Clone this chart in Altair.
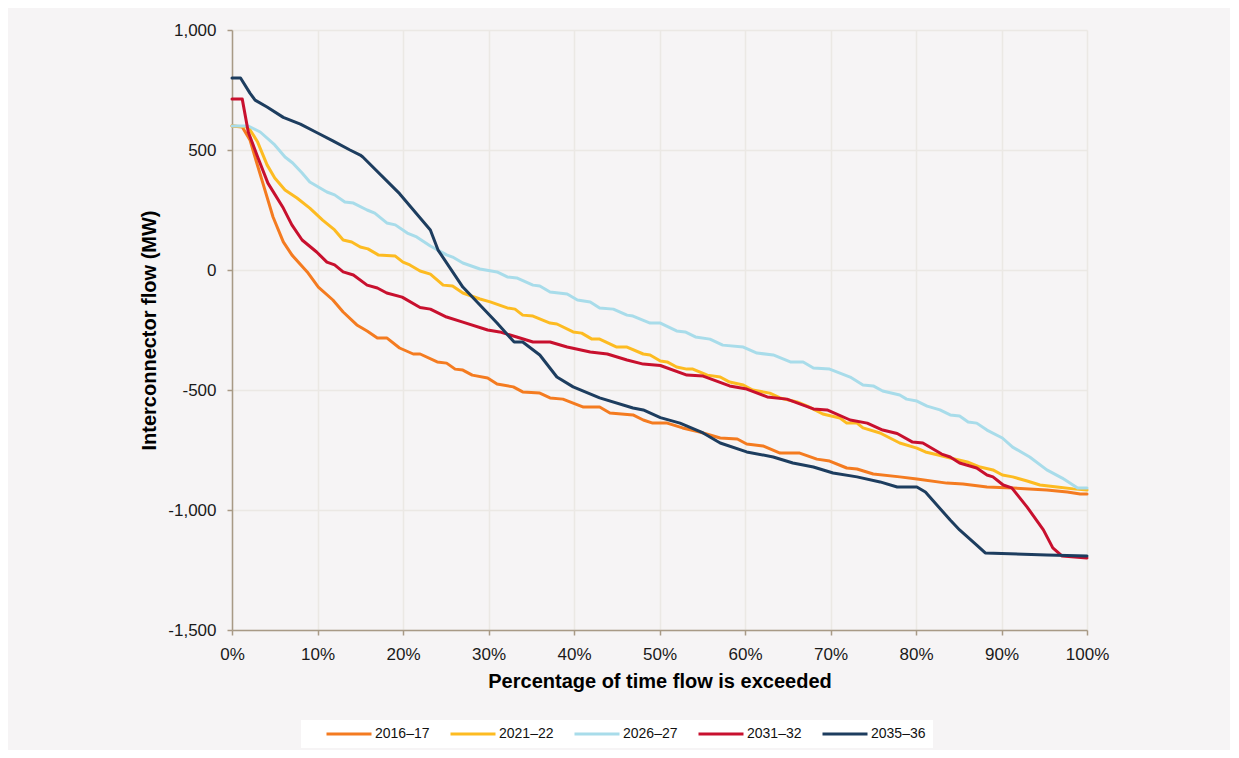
import altair as alt
import pandas as pd

SERIES = ["2016–17", "2021–22", "2026–27", "2031–32", "2035–36"]
COLORS = ["#f47b20", "#fdbb21", "#a8dcea", "#c8102e", "#1d3d5f"]

X_TICKS = [0, 10, 20, 30, 40, 50, 60, 70, 80, 90, 100]
Y_TICKS = [-1500, -1000, -500, 0, 500, 1000]

# 2016–17
x_2016 = [0, 1.2, 2.1, 2.9, 3.6, 4.8, 6.0, 7.0, 8.8, 10.1, 11.8, 13.0, 14.6, 15.8, 17.0, 18.1,
          19.6, 21.2, 22.0, 24.0, 25.1, 26.1, 27.0, 28.1, 29.9, 31.0, 32.9, 34.0, 36.0, 37.2,
          38.7, 41.1, 43.0, 44.2, 46.9, 48.1, 49.2, 50.9, 52.7, 54.7, 57.1, 59.1, 60.2, 62.1,
          64.1, 66.4, 68.4, 69.9, 71.9, 73.1, 75.0, 78.1, 80.1, 83.6, 85.5, 88.3, 91.3, 95.3,
          97.7, 99.2, 100]
y_2016 = [600, 596, 542, 446, 363, 221, 117, 63, -8, -71, -125, -175, -229, -254, -283, -283,
          -325, -350, -350, -383, -388, -413, -417, -438, -450, -475, -487, -508, -513, -533,
          -538, -571, -571, -596, -604, -625, -638, -638, -658, -675, -700, -704, -725, -733,
          -763, -763, -788, -796, -825, -829, -850, -862, -871, -888, -892, -904, -908, -917,
          -925, -933, -933]

# 2021–22
x_2021 = [0, 1.9, 3.0, 4.1, 5.0, 6.2, 7.6, 9.1, 10.6, 12.0, 13.0, 14.0, 15.0, 15.9, 17.1, 19.1,
          20.0, 20.8, 22.0, 23.2, 24.7, 25.8, 27.0, 29.0, 30.2, 32.2, 33.1, 34.0, 35.2, 37.2,
          38.0, 39.9, 40.9, 42.1, 43.0, 45.0, 46.2, 48.1, 48.9, 50.1, 50.9, 52.0, 53.2, 53.9,
          55.6, 57.1, 58.2, 59.8, 60.9, 62.9, 64.1, 66.1, 67.3, 69.1, 71.1, 71.9, 73.1, 73.8,
          75.8, 78.1, 80.1, 81.1, 82.6, 84.0, 86.0, 87.5, 89.0, 90.1, 91.3, 93.0, 94.5, 96.5,
          98.4, 100]
y_2021 = [600, 596, 533, 438, 383, 333, 300, 258, 208, 167, 125, 117, 96, 88, 63, 58,
          33, 21, -4, -17, -63, -67, -96, -121, -133, -158, -163, -188, -192, -221,
          -225, -258, -263, -288, -288, -321, -321, -350, -354, -379, -383, -404, -413, -413,
          -438, -446, -467, -479, -500, -513, -533, -550, -567, -600, -617, -638, -638, -658,
          -679, -721, -742, -758, -771, -783, -800, -821, -833, -854, -862, -879, -896, -904,
          -912, -917]

# 2026–27
x_2026 = [0, 1.9, 3.3, 5.0, 6.2, 7.1, 8.2, 9.1, 11.1, 12.0, 13.2, 14.2, 15.8, 16.7, 18.1, 19.1,
          20.5, 21.6, 23.2, 25.1, 25.8, 27.0, 29.0, 31.0, 32.2, 33.3, 35.2, 36.0, 37.2, 39.2,
          40.4, 41.9, 43.0, 44.6, 46.2, 46.9, 48.9, 50.1, 52.0, 53.0, 54.2, 55.9, 57.4, 59.8,
          61.4, 63.3, 65.3, 66.8, 68.0, 69.9, 72.3, 73.8, 75.0, 76.1, 78.1, 78.9, 80.1, 81.3,
          82.8, 84.0, 85.1, 86.1, 87.1, 88.3, 90.1, 91.3, 93.3, 95.3, 97.1, 98.9, 100]
y_2026 = [600, 600, 575, 521, 471, 446, 404, 367, 325, 313, 283, 279, 250, 237, 196, 188,
          154, 138, 100, 63, 54, 29, 4, -8, -29, -33, -63, -67, -92, -100,
          -125, -133, -158, -163, -188, -192, -221, -221, -254, -258, -279, -288, -313, -321,
          -346, -354, -383, -383, -408, -413, -446, -479, -483, -504, -521, -538, -546, -567,
          -583, -604, -608, -633, -638, -667, -700, -738, -779, -833, -867, -908, -908]

# 2031–32
x_2031 = [0, 1.2, 1.9, 3.0, 4.2, 6.0, 7.0, 8.2, 9.9, 11.1, 12.0, 13.0, 14.2, 15.8, 17.0, 18.1,
          19.9, 22.0, 23.2, 25.1, 27.0, 29.9, 31.3, 33.3, 35.2, 37.2, 39.2, 41.9, 43.9, 46.2,
          48.1, 50.1, 53.2, 55.1, 58.2, 60.2, 62.6, 64.9, 68.0, 69.6, 72.3, 74.3, 76.1, 77.8,
          79.6, 80.8, 83.0, 84.0, 85.1, 87.1, 88.3, 89.0, 90.2, 91.2, 93.0, 94.9, 96.0, 97.1,
          100]
y_2031 = [712, 712, 575, 471, 362, 258, 188, 125, 75, 33, 21, -8, -21, -63, -75, -96,
          -113, -156, -163, -196, -217, -250, -258, -279, -300, -300, -321, -342, -350, -375,
          -392, -398, -438, -442, -483, -496, -529, -538, -579, -583, -625, -638, -667, -681,
          -717, -721, -767, -779, -804, -825, -854, -862, -896, -908, -988, -1083, -1158, -1192,
          -1200]

# 2035–36
x_2035 = [0, 1.0, 2.1, 2.7, 4.1, 6.0, 8.0, 9.9, 11.8, 13.8, 15.0, 15.3, 19.6, 23.2, 24.1, 27.0,
          31.0, 33.0, 34.0, 36.0, 38.0, 39.9, 43.0, 46.9, 48.1, 50.1, 52.4, 55.1, 57.1, 60.2,
          63.3, 65.6, 68.0, 70.3, 73.1, 75.8, 77.8, 80.1, 81.1, 84.0, 85.1, 87.1, 88.1, 95.3,
          100]
y_2035 = [800, 800, 737, 708, 679, 636, 608, 573, 538, 500, 479, 471, 318, 167, 83, -71,
          -221, -300, -300, -354, -446, -487, -533, -575, -583, -615, -638, -679, -721, -758,
          -779, -804, -821, -846, -862, -883, -904, -904, -925, -1042, -1083, -1146, -1179, -1187,
          -1192]

rows = []
for name, xs, ys in zip(SERIES, [x_2016, x_2021, x_2026, x_2031, x_2035],
                        [y_2016, y_2021, y_2026, y_2031, y_2035]):
    for xv, yv in zip(xs, ys):
        rows.append({"series": name, "pct": xv, "mw": yv})
df = pd.DataFrame(rows)

FONT = "Liberation Sans"
AXIS_COL = "#a89a86"

chart = alt.Chart(df).mark_line(
    strokeWidth=3, strokeJoin="round", strokeCap="round"
).encode(
    x=alt.X(
        "pct:Q",
        scale=alt.Scale(domain=[0, 100], nice=False),
        axis=alt.Axis(
            values=X_TICKS,
            labelExpr="datum.value + '%'",
            labelFlush=False,
            title="Percentage of time flow is exceeded",
            labelBaseline="alphabetic",
            labelPadding=24,
            titleX=427.5,
            titleY=57,
            titleAlign="center",
            titleBaseline="alphabetic",
        ),
    ),
    y=alt.Y(
        "mw:Q",
        scale=alt.Scale(domain=[-1500, 1000], nice=False),
        axis=alt.Axis(
            values=Y_TICKS,
            labelExpr="(datum.value < 0 ? '-' : '') + format(abs(datum.value), ',')",
            labelFlush=False,
            title="Interconnector flow (MW)",
            labelPadding=11,
            titleX=-73,
            titleY=300,
            titleAngle=270,
            titleAlign="center",
            titleBaseline="bottom",
        ),
    ),
    color=alt.Color(
        "series:N",
        scale=alt.Scale(domain=SERIES, range=COLORS),
        title=None,
        legend=alt.Legend(
            orient="none",
            legendX=69,
            legendY=690,
            direction="horizontal",
            columns=5,
            symbolType="stroke",
            symbolSize=2025,
            symbolStrokeWidth=3,
            symbolOffset=17,
            clipHeight=14,
            labelOffset=2,
            columnPadding=2,
            labelFont=FONT,
            labelFontSize=14,
            labelColor="#111111",
            fillColor="#ffffff",
            padding=7,
        ),
    ),
).properties(
    width=855,
    height=600,
    padding={"left": 224, "top": 22, "right": 143, "bottom": 120},
    autosize=alt.AutoSizeParams(type="none"),
    background="#f6f4f5",
).configure_axis(
    domainColor=AXIS_COL,
    domainWidth=1.5,
    tickColor=AXIS_COL,
    tickWidth=1.5,
    tickSize=5,
    gridColor="#ebe8e4",
    gridWidth=1.5,
    labelFont=FONT,
    labelFontSize=17,
    labelColor="#1a1a1a",
    titleFont=FONT,
    titleFontSize=20,
    titleFontWeight="bold",
    titleColor="#000000",
).configure_view(
    stroke="transparent"
)

chart.save("out.html", embed_options={"renderer": "svg", "actions": False})
